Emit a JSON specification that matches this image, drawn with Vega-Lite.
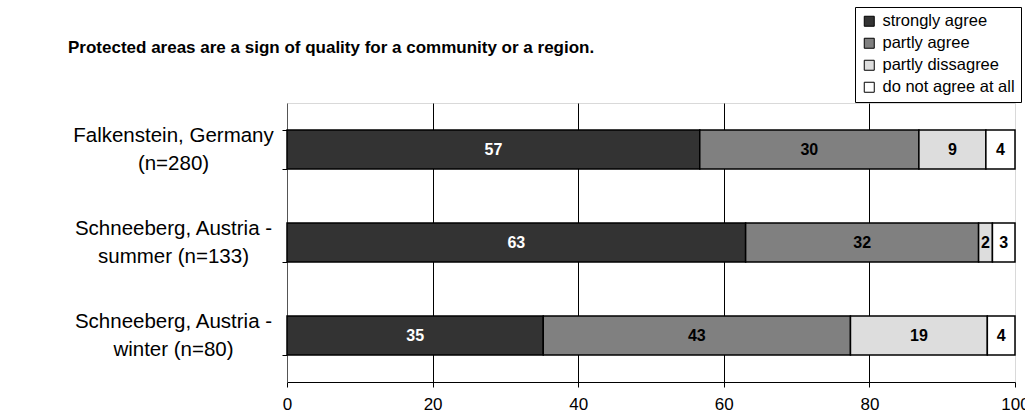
{
  "$schema": "https://vega.github.io/schema/vega-lite/v6.json",
  "width": 728,
  "height": 279,
  "autosize": {"type": "none"},
  "padding": {"left": 287, "top": 103, "right": 10, "bottom": 36},
  "background": "white",
  "title": {
    "text": "Protected areas are a sign of quality for a community or a region.",
    "anchor": "start",
    "frame": "group",
    "dx": -219,
    "offset": -63,
    "baseline": "alphabetic",
    "font": "Liberation Sans Narrow, Liberation Sans",
    "fontSize": 17,
    "fontWeight": "bold",
    "color": "black"
  },
  "data": {
    "values": [
      {"cat": "Falkenstein, Germany|(n=280)", "resp": "strongly agree", "o": 1, "v": 56.7, "lab": "57"},
      {"cat": "Falkenstein, Germany|(n=280)", "resp": "partly agree", "o": 2, "v": 30.1, "lab": "30"},
      {"cat": "Falkenstein, Germany|(n=280)", "resp": "partly dissagree", "o": 3, "v": 9.2, "lab": "9"},
      {"cat": "Falkenstein, Germany|(n=280)", "resp": "do not agree at all", "o": 4, "v": 4.0, "lab": "4"},
      {"cat": "Schneeberg, Austria -|summer (n=133)", "resp": "strongly agree", "o": 1, "v": 63.0, "lab": "63"},
      {"cat": "Schneeberg, Austria -|summer (n=133)", "resp": "partly agree", "o": 2, "v": 32.0, "lab": "32"},
      {"cat": "Schneeberg, Austria -|summer (n=133)", "resp": "partly dissagree", "o": 3, "v": 1.9, "lab": "2"},
      {"cat": "Schneeberg, Austria -|summer (n=133)", "resp": "do not agree at all", "o": 4, "v": 3.1, "lab": "3"},
      {"cat": "Schneeberg, Austria -|winter (n=80)", "resp": "strongly agree", "o": 1, "v": 35.2, "lab": "35"},
      {"cat": "Schneeberg, Austria -|winter (n=80)", "resp": "partly agree", "o": 2, "v": 42.2, "lab": "43"},
      {"cat": "Schneeberg, Austria -|winter (n=80)", "resp": "partly dissagree", "o": 3, "v": 18.8, "lab": "19"},
      {"cat": "Schneeberg, Austria -|winter (n=80)", "resp": "do not agree at all", "o": 4, "v": 3.8, "lab": "4"}
    ]
  },
  "transform": [
    {"stack": "v", "groupby": ["cat"], "sort": [{"field": "o", "order": "ascending"}], "as": ["v0", "v1"]},
    {"calculate": "(datum.v0 + datum.v1) / 2", "as": "mid"}
  ],
  "encoding": {
    "y": {
      "field": "cat",
      "type": "nominal",
      "sort": null,
      "scale": {"paddingInner": 0.58, "paddingOuter": 0.29},
      "axis": {
        "title": null,
        "labelExpr": "split(datum.label, '|')",
        "labelAlign": "center",
        "labelBaseline": "middle",
        "labelPadding": 109,
        "labelOffset": -14,
        "labelFontSize": 20.5,
        "labelLineHeight": 28,
        "labelColor": "black",
        "labelLimit": 300,
        "tickBand": "extent",
        "tickSize": 5,
        "tickColor": "black",
        "domainColor": "#555555",
        "grid": false
      }
    }
  },
  "layer": [
    {
      "mark": {"type": "bar", "stroke": "black", "strokeWidth": 1.5},
      "encoding": {
        "x": {
          "field": "v0",
          "type": "quantitative",
          "scale": {"domain": [0, 100], "nice": false},
          "axis": {
            "title": null,
            "values": [0, 20, 40, 60, 80, 100],
            "labelFontSize": 17,
            "labelColor": "black",
            "labelFlush": false,
            "labelPadding": 9,
            "tickSize": 5,
            "tickColor": "black",
            "domainColor": "black",
            "grid": true,
            "gridColor": {"condition": {"test": "datum.value == 0 || datum.value == 100", "value": "#d9d9d9"}, "value": "black"},
            "gridWidth": 1,
            "gridOpacity": 1
          }
        },
        "x2": {"field": "v1"},
        "color": {
          "field": "resp",
          "type": "nominal",
          "scale": {
            "domain": ["strongly agree", "partly agree", "partly dissagree", "do not agree at all"],
            "range": ["#333333", "#808080", "#dddddd", "#ffffff"]
          },
          "legend": {
            "title": null,
            "orient": "none",
            "legendX": 568,
            "legendY": -96,
            "symbolType": "square",
            "symbolSize": 100,
            "symbolStrokeColor": "black",
            "symbolStrokeWidth": 1,
            "symbolOpacity": 1,
            "labelFontSize": 16.5,
            "labelColor": "black",
            "labelOffset": 5,
            "rowPadding": 5,
            "padding": 6,
            "strokeColor": "black",
            "fillColor": "white"
          }
        }
      }
    },
    {
      "mark": {"type": "text", "fontWeight": "bold", "fontSize": 16, "align": "center", "baseline": "middle"},
      "encoding": {
        "x": {"field": "mid", "type": "quantitative"},
        "text": {"field": "lab"},
        "color": {"condition": {"test": "datum.resp == 'strongly agree'", "value": "white"}, "value": "black"}
      }
    }
  ],
  "config": {
    "font": "Liberation Sans",
    "view": {"stroke": "#d9d9d9"}
  }
}
